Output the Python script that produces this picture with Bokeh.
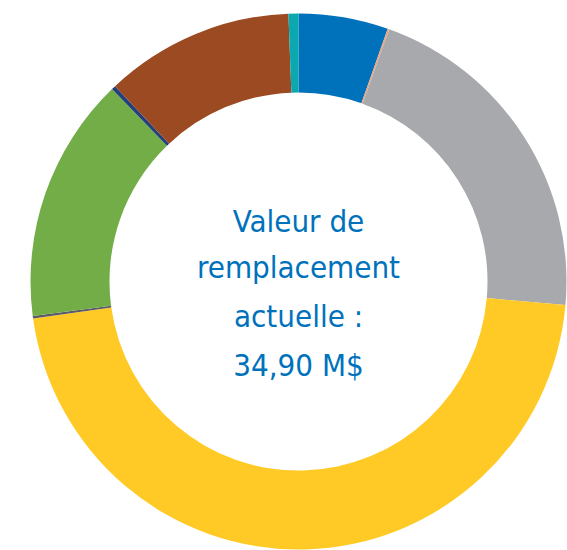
import numpy as np
from bokeh.plotting import figure
from bokeh.models import ColumnDataSource
from bokeh.core.properties import value
from bokeh.embed import file_html
from bokeh.resources import INLINE

# Share of current replacement value (%), clockwise from 12 o'clock
categories = ["Catégorie 1", "Catégorie 2", "Catégorie 3", "Catégorie 4", "Catégorie 5",
              "Catégorie 6", "Catégorie 7", "Catégorie 8", "Catégorie 9"]
shares = [5.4, 0.1, 20.9, 46.4, 0.15, 14.8, 0.25, 11.4, 0.6]
colors = ["#0072BC", "#F2A27A", "#A7A9AC", "#FFCA25", "#5B5B66",
          "#72AD47", "#233F7C", "#9C4A22", "#0BA9AF"]
center_lines = ["Valeur de", "remplacement", "actuelle :", "34,90 M$"]

W, H = 567, 550
cx, cy = 298, H - 281
r_out, r_in = 268, 189

vals = np.array(shares, dtype=float)
frac = vals / vals.sum()
cum = np.concatenate([[0], np.cumsum(frac)])
start = np.pi / 2 - cum[:-1] * 2 * np.pi
end = np.pi / 2 - cum[1:] * 2 * np.pi

src = ColumnDataSource(dict(cat=categories, start=start, end=end, color=colors,
                            x=[cx] * len(categories), y=[cy] * len(categories)))

p = figure(width=W, height=H, x_range=(0, W), y_range=(0, H),
           output_backend="svg", toolbar_location=None, min_border=0)
p.axis.visible = False
p.grid.visible = False
p.outline_line_color = None
p.background_fill_color = "white"
p.border_fill_color = "white"

p.annular_wedge(x="x", y="y", inner_radius=r_in, outer_radius=r_out,
                start_angle="start", end_angle="end", direction="clock",
                fill_color="color", line_color=None, source=src)

baselines = [220, 266, 315, 364]
tsrc = ColumnDataSource(dict(x=[cx] * len(center_lines),
                             y=[H - b for b in baselines], t=center_lines))
p.text(x="x", y="y", text="t", source=tsrc, text_align="center",
       text_baseline="alphabetic", text_color="#0072BC",
       text_font=value("'DejaVu Sans Condensed', 'Roboto Condensed', 'Liberation Sans Narrow', Roboto, sans-serif"),
       text_font_size="31px")

open("out.html", "w").write(file_html(p, INLINE))
